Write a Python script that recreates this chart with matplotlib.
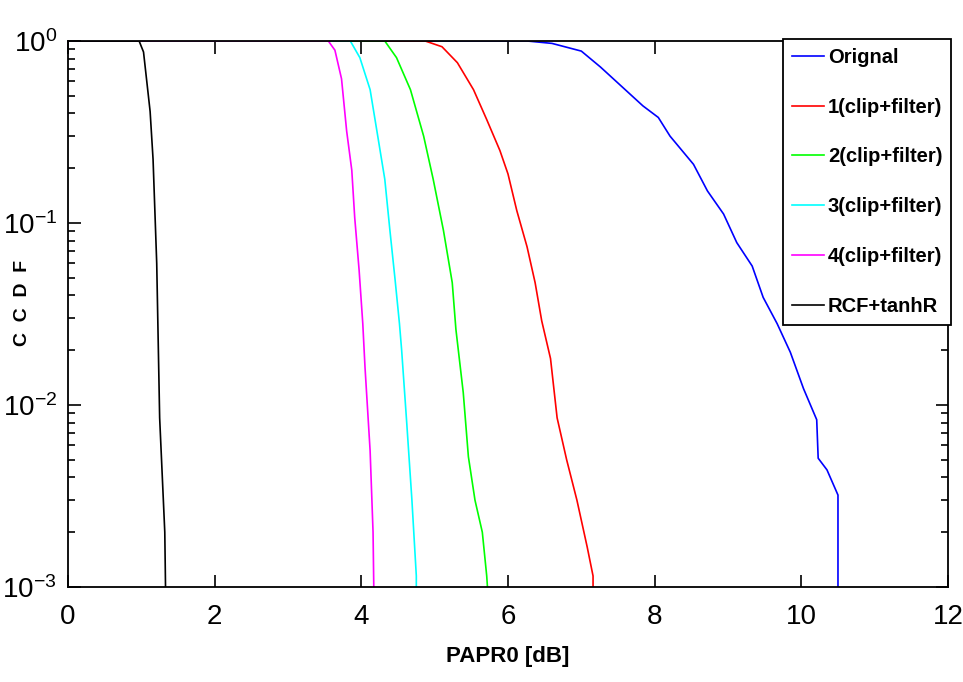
import numpy as np
import matplotlib
matplotlib.use("Agg")
import matplotlib.pyplot as plt
from matplotlib.ticker import LogLocator, NullFormatter

# ====================== 数据 ======================
# Orignal
x_orig = [0.0, 6.26, 6.6, 7.0, 7.26, 7.84, 8.05, 8.21, 8.53, 8.72, 8.94, 9.12, 9.33,
          9.48, 9.67, 9.85, 10.03, 10.21, 10.23, 10.35, 10.50, 10.50]
y_orig = [1.0, 1.0, 0.97, 0.88, 0.72, 0.44, 0.38, 0.30, 0.21, 0.15, 0.112, 0.078, 0.058,
          0.039, 0.028, 0.0195, 0.0123, 0.0083, 0.0051, 0.0044, 0.0032, 0.001]

# 1(clip+filter)
x_1 = [0.0, 4.87, 5.1, 5.31, 5.53, 5.71, 5.89, 6.00, 6.12, 6.26, 6.37, 6.46,
       6.58, 6.67, 6.80, 6.94, 7.08, 7.16, 7.16]
y_1 = [1.0, 1.0, 0.93, 0.76, 0.54, 0.37, 0.25, 0.186, 0.117, 0.074, 0.047, 0.029,
       0.018, 0.0085, 0.005, 0.003, 0.00166, 0.00115, 0.001]

# 2(clip+filter)
x_2 = [0.0, 4.32, 4.48, 4.67, 4.85, 4.98, 5.12, 5.24, 5.29, 5.39, 5.46, 5.55,
       5.65, 5.71, 5.72]
y_2 = [1.0, 1.0, 0.81, 0.54, 0.30, 0.174, 0.091, 0.047, 0.026, 0.0117, 0.0052, 0.003,
       0.002, 0.00115, 0.001]

# 3(clip+filter)
x_3 = [0.0, 3.85, 3.98, 4.12, 4.23, 4.32, 4.39, 4.46, 4.52, 4.55, 4.62, 4.69, 4.75, 4.75]
y_3 = [1.0, 1.0, 0.81, 0.54, 0.29, 0.174, 0.091, 0.049, 0.028, 0.02, 0.0079, 0.003,
       0.00115, 0.001]

# 4(clip+filter)
x_4 = [0.0, 3.55, 3.64, 3.73, 3.80, 3.87, 3.91, 3.97, 4.02, 4.05, 4.12, 4.16, 4.17]
y_4 = [1.0, 1.0, 0.89, 0.62, 0.32, 0.195, 0.107, 0.055, 0.028, 0.0162, 0.0056, 0.002, 0.001]

# RCF+tanhR
x_rcf = [0.0, 0.97, 1.03, 1.12, 1.16, 1.21, 1.25, 1.32, 1.33]
y_rcf = [1.0, 1.0, 0.87, 0.41, 0.224, 0.06, 0.0085, 0.002, 0.001]

labels = ["Orignal", "1(clip+filter)", "2(clip+filter)", "3(clip+filter)",
          "4(clip+filter)", "RCF+tanhR"]
colors = ["#0000ff", "#ff0000", "#00ff00", "#00ffff", "#ff00ff", "#000000"]

# ====================== 字体 ======================
plt.rcParams['font.family'] = ['Liberation Sans', 'DejaVu Sans']
plt.rcParams['mathtext.fontset'] = 'custom'
plt.rcParams['mathtext.rm'] = 'Liberation Sans'
plt.rcParams['mathtext.it'] = 'Liberation Sans'
plt.rcParams['mathtext.bf'] = 'Liberation Sans:bold'

fig = plt.figure(figsize=(9.63, 6.82), dpi=100)
ax = fig.add_axes([0.0706, 0.1393, 0.9138, 0.8006])

series = [(x_orig, y_orig), (x_1, y_1), (x_2, y_2), (x_3, y_3), (x_4, y_4), (x_rcf, y_rcf)]
for (xs, ys), lab, c in zip(series, labels, colors):
    ax.plot(xs, ys, color=c, linewidth=1.2, label=lab)

ax.set_yscale('log')
ax.set_xlim(0, 12)
ax.set_ylim(1e-3, 1)
ax.set_xticks(np.arange(0, 13, 2))
ax.yaxis.set_major_locator(LogLocator(base=10, numticks=10))
ax.yaxis.set_minor_locator(LogLocator(base=10, subs=np.arange(2, 10), numticks=10))
ax.yaxis.set_minor_formatter(NullFormatter())

ax.tick_params(axis='both', which='both', direction='in', top=True, right=True,
               labelsize=20, width=1.2)
ax.tick_params(which='major', length=9)
ax.tick_params(which='minor', length=5)
ax.tick_params(axis='x', pad=12)
ax.tick_params(axis='y', pad=8)
for sp in ax.spines.values():
    sp.set_linewidth(1.3)

ax.set_xlabel("PAPR0 [dB]", fontsize=16, fontweight='bold', labelpad=12)
ax.set_ylabel("C  C  D  F", fontsize=14, fontweight='bold')
ax.yaxis.set_label_coords(-0.042, 0.52)

leg = ax.legend(loc='upper right', bbox_to_anchor=(1.004, 1.004),
                prop={'weight': 'bold', 'size': 14.5}, frameon=True, fancybox=False,
                framealpha=1.0, edgecolor='black', handlelength=1.6, handletextpad=0.2,
                labelspacing=1.53, borderpad=0.45, borderaxespad=0.0)
leg.get_frame().set_linewidth(1.3)

fig.savefig("out.png", dpi=100, facecolor='white')
